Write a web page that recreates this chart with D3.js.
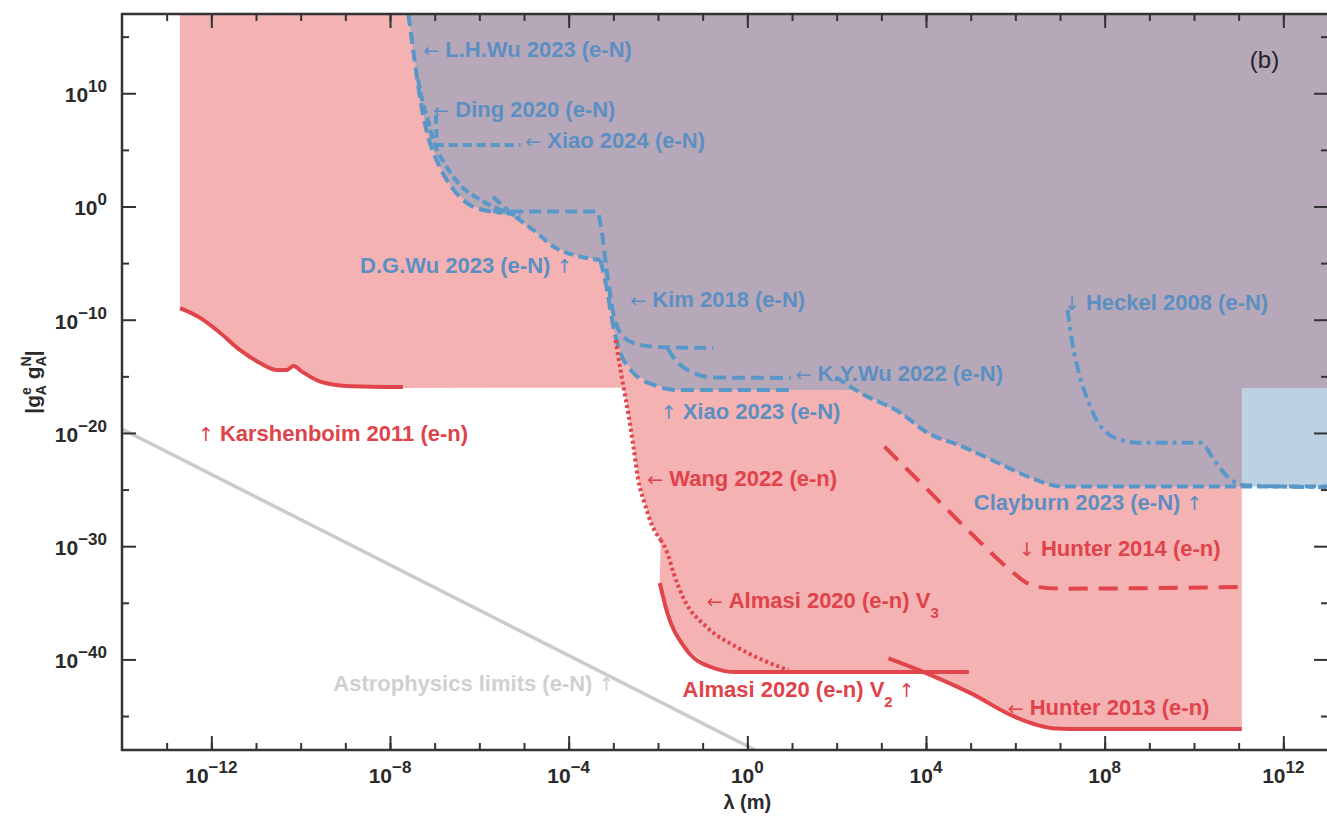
<!DOCTYPE html>
<html><head><meta charset="utf-8">
<script src="https://cdn.jsdelivr.net/npm/d3@7"></script>
<style>body{margin:0;background:#fff}svg{display:block}</style>
</head><body>
<svg id="c" width="1327" height="816"></svg>
<script>
// ---- data (log10 λ [m], log10 |gA^e gA^N|) ----
const xDomainExp = [-14, 13];
const yDomainExp = [-48, 17];
const xMajorExps = [-12, -8, -4, 0, 4, 8, 12];
const xMinorExps = d3.range(-13, 13);
const yMajorExps = [10, 0, -10, -20, -30, -40];
const yMinorExps = [15, 5, -5, -15, -25, -35, -45];

// e-N (blue) limits
const lhWu2023 = [[-7.59,17],[-7.48,13.8],[-7.32,9.4],[-7.17,6.5],[-6.9,3.6],[-6.6,1.6],[-6.2,0.1],[-5.8,-0.4],[-5.5,-0.55]];
const ding2020 = [[-7.37,11.2],[-7.28,9.4],[-7.15,7.6],[-6.99,5.4],[-6.76,3.7],[-6.43,1.9],[-5.98,0.6],[-5.53,-0.3],[-5.08,-0.9]];
const xiao2024 = [[-6.97,8.1],[-6.95,5.44],[-5.08,5.44]];
const dgWu2023 = [[-5.69,0.85],[-5.37,-0.3],[-5.16,-1.0],[-4.71,-2.33],[-4.34,-3.54],[-3.74,-4.43],[-3.29,-4.72]];
const kim2018  = [[-5.69,-0.45],[-3.36,-0.45],[-3.29,-1.45],[-3.14,-5.87],[-3.0,-9.4],[-2.84,-11.17],[-2.55,-12.05],[-2.02,-12.4],[-0.76,-12.49]];
const xiao2023 = [[-3.29,-4.72],[-3.14,-7.37],[-3.0,-10.64],[-2.84,-12.93],[-2.55,-14.7],[-2.10,-15.76],[-1.57,-16.2],[0.97,-16.2]];
const kyWu2022 = [[-1.79,-12.49],[-1.66,-13.29],[-1.2,-14.7],[-0.76,-15.1],[0.97,-15.14]];
const clayburn2023 = [[1.98,-15.05],[2.54,-16.47],[3.43,-18.23],[4.04,-20.0],[4.78,-21.15],[5.52,-22.47],[6.13,-23.6],[6.57,-24.3],[7.0,-24.72],[13,-24.72]];
const heckel2008 = [[7.17,-9.13],[7.24,-11.17],[7.39,-14.17],[7.62,-17.08],[7.91,-19.44],[8.36,-20.62],[8.74,-20.86],[10.15,-20.86],[10.45,-22.39],[10.75,-23.86],[11.12,-24.62],[13,-24.8]];

// e-n (red) limits
const karshenboim2011 = [[-12.7,-8.98],[-12.25,-9.84],[-11.8,-11.17],[-11.36,-12.67],[-10.91,-13.82],[-10.53,-14.43],[-10.31,-14.43],[-10.16,-14.08],[-9.97,-14.58],[-9.56,-15.47],[-8.96,-15.85],[-7.71,-15.95]];
const wang2022 = [[-2.95,-11.8],[-2.84,-14.4],[-2.77,-16.0],[-2.66,-18.4],[-2.55,-21.2],[-2.45,-24.0],[-2.3,-26.2],[-2.15,-28.0],[-1.94,-29.45]];
const almasiV3 = [[-1.94,-29.45],[-1.79,-30.6],[-1.65,-32.4],[-1.41,-34.75],[-0.92,-37.1],[-0.24,-38.9],[0.34,-40.05],[0.92,-40.95]];
const almasiV2 = [[-1.96,-33.25],[-1.79,-35.9],[-1.41,-38.9],[-0.82,-40.67],[-0.24,-41.12],[4.96,-41.12]];
const hunter2013 = [[3.16,-39.9],[3.84,-40.94],[5.0,-42.98],[5.98,-45.06],[6.5,-45.8],[6.9,-46.1],[7.5,-46.15],[11.07,-46.15]];
const hunter2014 = [[3.07,-21.21],[4.04,-25.03],[5.0,-28.83],[5.88,-32.1],[6.2,-33.1],[6.46,-33.58],[7.04,-33.75],[11.07,-33.6]];

// astrophysics (gray)
const astro = [[-14,-19.65],[0.4,-48.45]];

// region edges
const enEdgeX = -12.7, enFloorY = -16.02, enRightX = 11.07, topY = 17, rightX = 13;

// labels: [text pieces], anchor (log10 λ, log10 g) at left/centre
const blueLabels = [
  {p:[["← ",1],["L.H.Wu 2023 (e-N)"]], at:[-7.255,13.9]},
  {p:[["← ",1],["Ding 2020 (e-N)"]], at:[-7.03,8.6]},
  {p:[["← ",1],["Xiao 2024 (e-N)"]], at:[-4.97,5.88]},
  {p:[["D.G.Wu 2023 (e-N)"],[" ↑",1]], at:[-8.67,-5.16]},
  {p:[["←  ",1],["Kim 2018 (e-N)"]], at:[-2.62,-8.19]},
  {p:[["← ",1],["K.Y.Wu 2022 (e-N)"]], at:[1.08,-14.67]},
  {p:[["↑ ",1],["Xiao 2023 (e-N)"]], at:[-1.94,-18.03]},
  {p:[["↓ ",1],["Heckel 2008 (e-N)"]], at:[7.09,-8.4]},
  {p:[["Clayburn 2023 (e-N)"],[" ↑",1]], at:[5.07,-26.07]}
];
const redLabels = [
  {p:[["↑ ",1],["Karshenboim 2011 (e-n)"]], at:[-12.3,-20.0]},
  {p:[["← ",1],["Wang 2022 (e-n)"]], at:[-2.24,-23.97]},
  {p:[["↓ ",1],["Hunter 2014 (e-n)"]], at:[6.08,-30.16]},
  {p:[["← ",1],["Almasi 2020 (e-n) V"],["3",2]], at:[-0.91,-34.75]},
  {p:[["Almasi 2020 (e-n) V"],["2",2],[" ↑",3]], at:[-1.45,-42.62]},
  {p:[["← ",1],["Hunter 2013 (e-n)"]], at:[5.83,-44.18]}
];
const grayLabels = [
  {p:[["Astrophysics limits (e-N)"],[" ↑",1]], at:[-9.27,-42.08]}
];

// ---- drawing ----
const m = {l:122, r:1328, t:14, b:750};
const P = v => Math.pow(10, v);
const x = d3.scaleLog().domain(xDomainExp.map(P)).range([m.l, m.r]);
const y = d3.scaleLog().domain(yDomainExp.map(P)).range([m.b, m.t]);
const svg = d3.select("#c");
const FONT = "'Liberation Sans', Arial, Helvetica, sans-serif";

svg.append("clipPath").attr("id","clip").append("rect")
  .attr("x", m.l).attr("y", m.t).attr("width", m.r - m.l).attr("height", m.b - m.t);
const g = svg.append("g").attr("clip-path","url(#clip)");

const poly = d3.line().x(d => x(P(d[0]))).y(d => y(P(d[1])));
const line = d3.line().x(d => x(P(d[0]))).y(d => y(P(d[1]))).curve(d3.curveMonotoneX);
const area = pts => poly(pts) + "Z";

// e-n region (pink)
const hunterTail = hunter2013.filter(d => d[0] >= 5);
const enPoly = [
  [enEdgeX, topY], [rightX, topY], [rightX, enFloorY], [enRightX, enFloorY],
  ...hunterTail.slice().reverse(),
  [3.94, almasiV2[almasiV2.length-1][1]],
  ...almasiV2.slice(0, almasiV2.length-1).reverse(),
  ...wang2022.slice(2).reverse(),
  [karshenboim2011[karshenboim2011.length-1][0], enFloorY],
  ...karshenboim2011.slice().reverse()
];
g.append("path").attr("d", area(enPoly)).attr("fill", "#f4b2b3");

// e-N region (blue, translucent)
const eNPoly = [
  ...lhWu2023.slice(0, 8),
  ...dgWu2023.slice(2),
  ...xiao2023.slice(1),
  [2.45, xiao2023[xiao2023.length-1][1]],
  ...clayburn2023.slice(1),
  [rightX, topY]
];
g.append("path").attr("d", area(eNPoly)).attr("fill", "rgb(106,155,192)").attr("fill-opacity", 0.45);

// astrophysics line
g.append("path").attr("d", poly(astro)).attr("fill","none").attr("stroke","#cbcbcb").attr("stroke-width",3.5);

const BLUE = "#5a97c9", RED = "#e2444b";
const blueLines = [
  [lhWu2023, "12,6"], [ding2020, "9,4"], [xiao2024, "9,5"], [dgWu2023, "10,5"],
  [kim2018, "12,6"], [xiao2023, "13,6"], [kyWu2022, "13,6"], [clayburn2023, "11,5"],
  [heckel2008, "12,5,4,5"]
];
blueLines.forEach(([d, dash]) => g.append("path").attr("d", line(d)).attr("fill","none")
  .attr("stroke", BLUE).attr("stroke-width", 4).attr("stroke-dasharray", dash));

const redLines = [
  [karshenboim2011, null], [wang2022, "3,3"], [almasiV3, "3,3"], [almasiV2, null],
  [hunter2013, null], [hunter2014, "19,11"]
];
redLines.forEach(([d, dash]) => {
  const p = g.append("path").attr("d", line(d)).attr("fill","none")
    .attr("stroke", RED).attr("stroke-width", 4);
  if (dash) p.attr("stroke-dasharray", dash);
});

// labels
function drawLabels(list, color) {
  list.forEach(L => {
    const t = svg.append("text").attr("x", x(P(L.at[0]))).attr("y", y(P(L.at[1])) + 8)
      .attr("font-family", FONT).attr("font-size", 22).attr("font-weight", "bold").attr("fill", color);
    L.p.forEach(([s, k]) => {
      const ts = t.append("tspan").text(s);
      if (k === 1) ts.attr("font-weight", "normal").attr("font-family", "'DejaVu Sans', sans-serif").attr("font-size", 19);
      if (k === 2) ts.attr("font-size", 15).attr("dy", 10);
      if (k === 3) ts.attr("font-weight", "normal").attr("font-family", "'DejaVu Sans', sans-serif").attr("font-size", 19).attr("dy", -10);
    });
  });
}
drawLabels(blueLabels, "#5b8fc2");
drawLabels(redLabels, "#e0434a");
drawLabels(grayLabels, "#d0d0d0");

svg.append("text").attr("x", x(P(11.25))).attr("y", y(P(12.95)) + 8)
  .attr("font-family", FONT).attr("font-size", 24).attr("fill", "#222").text("(b)");

// axes
const AX = "#333";
function styleAxis(sel) {
  sel.selectAll(".domain").remove();
  sel.selectAll(".tick line").attr("stroke", AX).attr("stroke-width", 2);
  sel.selectAll(".tick text").remove();
}
const xs = xMinorExps.map(P), xM = xMajorExps.map(P);
const ysn = yMinorExps.map(P), yM = yMajorExps.map(P);
svg.append("g").attr("transform", `translate(0,${m.b})`).call(d3.axisBottom(x).tickValues(xs).tickSize(-7)).call(styleAxis);
svg.append("g").attr("transform", `translate(0,${m.b})`).call(d3.axisBottom(x).tickValues(xM).tickSize(-14)).call(styleAxis);
svg.append("g").attr("transform", `translate(0,${m.t})`).call(d3.axisTop(x).tickValues(xs).tickSize(-7)).call(styleAxis);
svg.append("g").attr("transform", `translate(0,${m.t})`).call(d3.axisTop(x).tickValues(xM).tickSize(-14)).call(styleAxis);
svg.append("g").attr("transform", `translate(${m.l},0)`).call(d3.axisLeft(y).tickValues(ysn).tickSize(-7)).call(styleAxis);
svg.append("g").attr("transform", `translate(${m.l},0)`).call(d3.axisLeft(y).tickValues(yM).tickSize(-14)).call(styleAxis);
svg.append("g").attr("transform", `translate(${m.r},0)`).call(d3.axisRight(y).tickValues(ysn).tickSize(-7)).call(styleAxis);
svg.append("g").attr("transform", `translate(${m.r},0)`).call(d3.axisRight(y).tickValues(yM).tickSize(-14)).call(styleAxis);

svg.append("path").attr("d", `M${m.r},${m.t}H${m.l}V${m.b}H${m.r}`).attr("fill","none").attr("stroke", AX).attr("stroke-width", 2.5);

// tick labels
const fmtExp = e => (e < 0 ? "\u2212" + (-e) : "" + e);
xMajorExps.forEach(e => {
  const t = svg.append("text").attr("x", x(P(e))).attr("y", 783).attr("text-anchor","middle")
    .attr("font-family", FONT).attr("font-weight","bold").attr("font-size", 21).attr("fill", "#2a2a2a");
  t.append("tspan").text("10");
  t.append("tspan").attr("dy", -10).attr("font-size", 17).text(fmtExp(e));
});
yMajorExps.forEach(e => {
  const t = svg.append("text").attr("x", 107).attr("y", y(P(e)) + 9).attr("text-anchor","end")
    .attr("font-family", FONT).attr("font-weight","bold").attr("font-size", 21).attr("fill", "#2a2a2a");
  t.append("tspan").text("10");
  t.append("tspan").attr("dy", -10).attr("font-size", 17).text(fmtExp(e));
});

// axis titles
svg.append("text").attr("x", x(P(0))).attr("y", 809).attr("text-anchor","middle")
  .attr("font-family", FONT).attr("font-weight","bold").attr("font-size", 20).attr("fill","#2a2a2a").text("λ (m)");

const yl = svg.append("text").attr("transform", "translate(40,382) rotate(-90)").attr("text-anchor","middle")
  .attr("font-family", FONT).attr("font-weight","bold").attr("font-size", 21).attr("fill","#2a2a2a");
yl.append("tspan").text("|g");
yl.append("tspan").attr("font-size", 14).attr("dy", -9).text("e");
yl.append("tspan").attr("font-size", 14).attr("dx", -8).attr("dy", 15).text("A");
yl.append("tspan").attr("dy", -6).text(" g");
yl.append("tspan").attr("font-size", 14).attr("dy", -9).text("N");
yl.append("tspan").attr("font-size", 14).attr("dx", -10).attr("dy", 15).text("A");
yl.append("tspan").attr("dy", -6).text("|");
</script>
</body></html>
